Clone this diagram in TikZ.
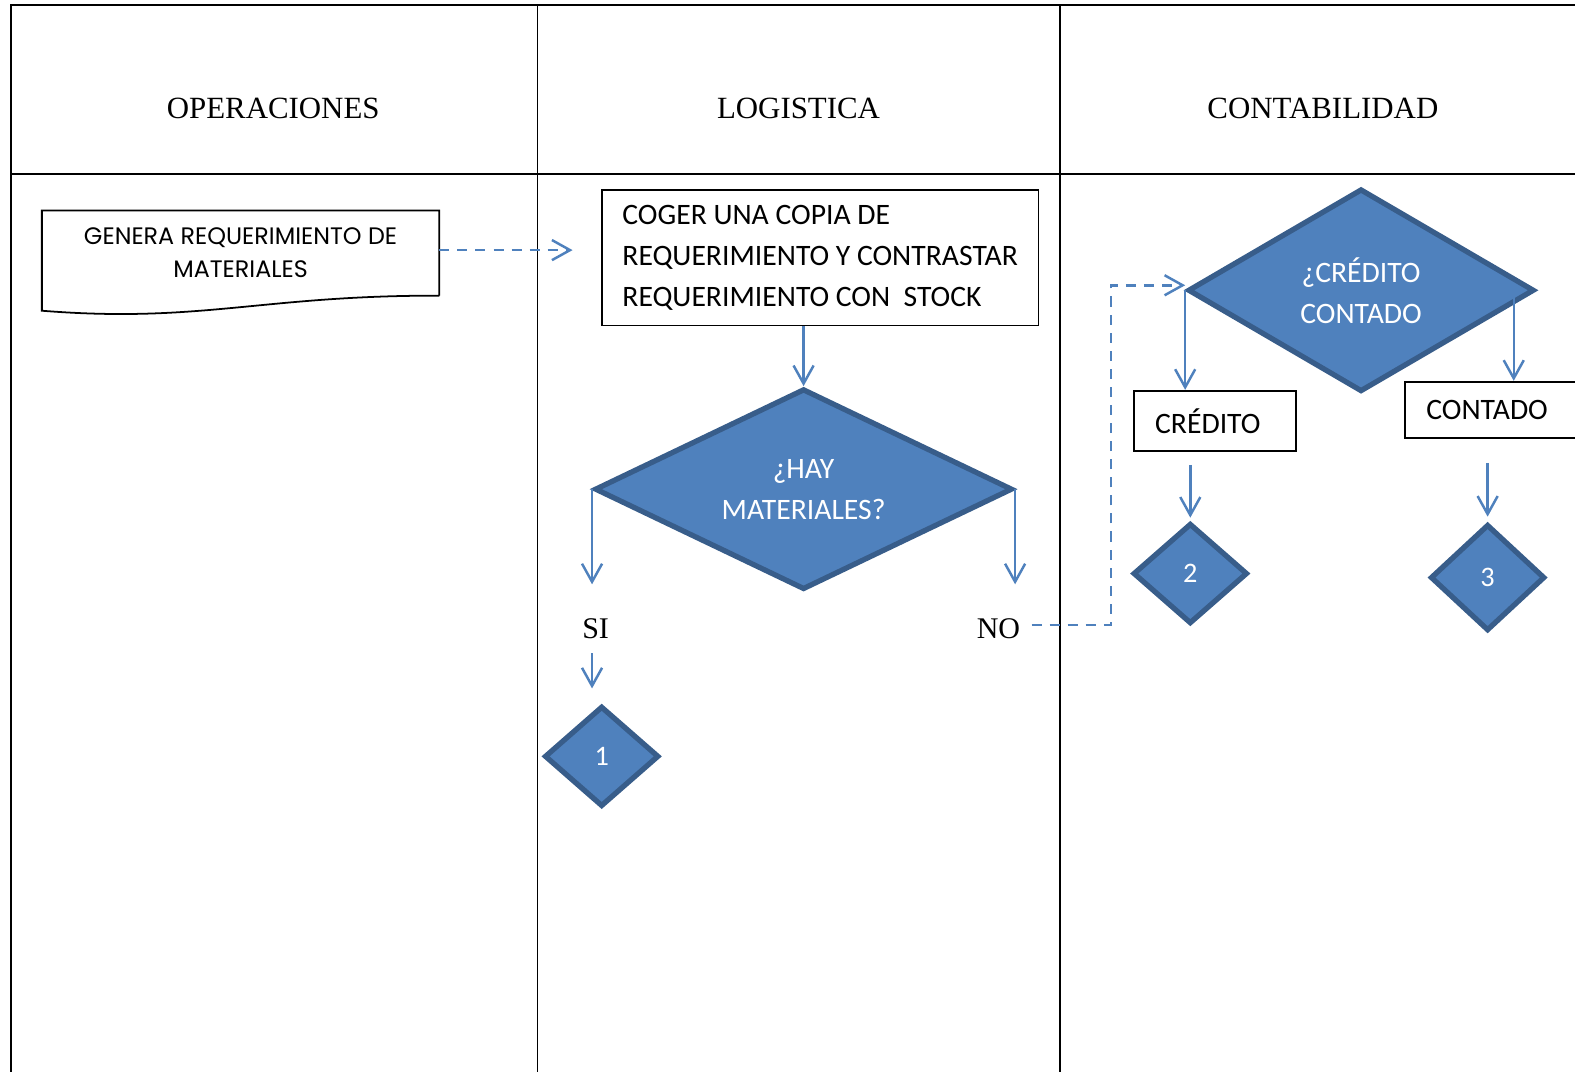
\documentclass[tikz,border=0pt]{standalone}
\usepackage{fontspec}
\setmainfont{Carlito}
\newfontfamily\titlefont{Liberation Serif}
\newfontfamily\gothfont{Poppins}
\usetikzlibrary{arrows.meta, shapes.geometric, calc}

\definecolor{flowblue}{HTML}{4F81BD}
\definecolor{flowedge}{HTML}{385D8A}

\tikzset{
  every node/.style={font=\fontsize{16.8}{23.3}\selectfont},
  lane/.style={draw=black, line width=1pt},
  lanehead/.style={font=\titlefont\fontsize{17.5}{21}\selectfont},
  stepbox/.style={
    draw=black, line width=1pt, align=left, inner sep=0pt
  },
  decision/.style={
    diamond, aspect=2, draw=flowedge, line width=3pt, fill=flowblue,
    text=white, align=center, inner sep=0pt
  },
  connector/.style={
    diamond, draw=flowedge, line width=3pt, fill=flowblue,
    text=white, inner sep=0pt, font=\fontsize{16}{18}\selectfont
  },
  answer/.style={
    font=\titlefont\fontsize{17}{20}\selectfont,
    inner sep=0pt, text height=11.3pt, text depth=0pt
  },
  arr/.style={-{Straight Barb[length=3.6mm,width=4mm]}, line width=1.4pt, flowblue},
  back/.style={arr, dash pattern=on 2mm off 1.6mm},
}

\begin{document}
\begin{tikzpicture}[x=0.02cm, y=-0.02cm]
    \useasboundingbox (0,0) rectangle (1568,1067);
    \clip (0,0) rectangle (1568,1067);

    % Swimlanes
    \draw[lane] (11,1080) -- (11,5) -- (1580,5);
    \draw[lane] (11,173) -- (1580,173);
    \draw[lane] (535,5) -- (535,1080);
    \draw[lane] (1055,5) -- (1055,1080);

    \node[lanehead] (hOper) at (272,108) {OPERACIONES};
    \node[lanehead] (hLog) at (795,108) {LOGISTICA};
    \node[lanehead] (hCont) at (1317,108) {CONTABILIDAD};

    % Operaciones
    \node[inner sep=0pt, minimum width=7.9cm, minimum height=1.68cm,
          align=center, font=\gothfont\fontsize{13.5}{18.7}\selectfont]
      (gen) at (239.5,252) {GENERA REQUERIMIENTO DE\\MATERIALES};
    \draw[line width=1pt] (gen.south east) -- (gen.north east) -- (gen.north west)
      -- ([yshift=-0.3cm]gen.south west)
      .. controls (200,322) and (260,294) .. (gen.south east);

    % Logistica
    \node[stepbox, minimum width=8.7cm, minimum height=2.7cm]
      (coger) at (816.5,256.5)
      {COGER UNA COPIA DE\\REQUERIMIENTO Y CONTRASTAR\\REQUERIMIENTO CON\ \ STOCK};
    \node[decision, minimum width=8.32cm, minimum height=4cm]
      (hay) at (800,487) {¿HAY\\MATERIALES?};
    \node[answer] (si) at (593,626) {SI};
    \node[answer] (no) at (994,626) {NO};
    \node[connector, minimum width=2.28cm, minimum height=2cm]
      (one) at (599,753) {1};

    % Contabilidad
    \node[decision, minimum width=6.9cm, minimum height=4.04cm]
      (cred) at (1355,289) {¿CRÉDITO\\CONTADO};
    \node[stepbox, text width=2.38cm, inner xsep=0.42cm, minimum height=1.2cm]
      (crBox) at (1209.5,419) {CRÉDITO};
    \node[stepbox, text width=3.48cm, inner xsep=0.42cm, minimum height=1.12cm]
      (contBox) at (1507,408) {CONTADO};
    \node[connector, minimum width=2.28cm, minimum height=2cm]
      (two) at (1185,571) {2};
    \node[connector, minimum width=2.28cm, minimum height=2.12cm]
      (three) at (1481,575) {3};

    \coordinate (reqTip) at (570,249);
    \coordinate (noBend) at (1106,0);

    % Arrows
    \draw[back] (gen.east |- reqTip) -- (reqTip);
    \draw[arr] (hay.north |- coger.south) -- (hay.north);
    \draw[arr, shorten >=0.68cm] (hay.west) -- (hay.west |- si.north);
    \draw[arr, shorten >=0.68cm] (hay.east) -- (hay.east |- no.north);
    \draw[arr, shorten <=0.28cm, shorten >=0.3cm] (hay.west |- si.south) -- (hay.west |- one.north);
    \draw[back, shorten <=0.22cm] ([yshift=0.08cm]no.east) -- ([yshift=0.08cm]noBend |- no.east)
      -- ([yshift=0.1cm]noBend |- cred.west) -- ([yshift=0.1cm]cred.west);
    \draw[arr] (cred.west) -- (cred.west |- crBox.north);
    \draw[arr] (contBox.north |- cred.east) -- (contBox.north);
    \draw[arr, shorten <=0.26cm, shorten >=0.06cm] (two.north |- crBox.south) -- (two.north);
    \draw[arr, shorten <=0.48cm, shorten >=0.1cm] (three.north |- contBox.south) -- (three.north);

\end{tikzpicture}
\end{document}
